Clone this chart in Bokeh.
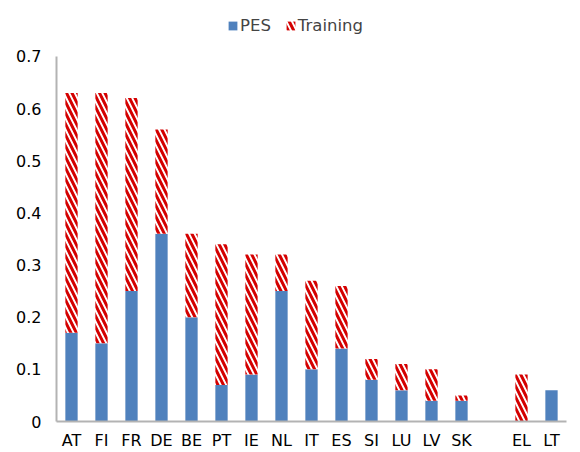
from bokeh.plotting import figure
from bokeh.models import ColumnDataSource, Legend, LegendItem, FactorRange, SingleIntervalTicker, Range1d
from bokeh.embed import file_html
from bokeh.resources import INLINE

countries = ["AT", "FI", "FR", "DE", "BE", "PT", "IE", "NL", "IT", "ES", "SI", "LU", "LV", "SK", " ", "EL", "LT"]
pes = [0.17, 0.15, 0.25, 0.36, 0.20, 0.07, 0.09, 0.25, 0.10, 0.14, 0.08, 0.06, 0.04, 0.04, 0.0, 0.0, 0.06]
training = [0.46, 0.48, 0.37, 0.20, 0.16, 0.27, 0.23, 0.07, 0.17, 0.12, 0.04, 0.05, 0.06, 0.01, 0.0, 0.09, 0.0]
top = [a + b for a, b in zip(pes, training)]

src = ColumnDataSource(dict(cat=countries, pes=pes, training=training, top=top))

BLUE = "#4F81BD"
RED = "#D40000"
FONT = "DejaVu Sans"

p = figure(x_range=FactorRange(factors=countries), y_range=Range1d(0, 0.8071),
           width=574, height=452, output_backend="svg", toolbar_location=None,
           min_border_left=56, min_border_right=8, min_border_top=0, min_border_bottom=30)

r1 = p.vbar(x="cat", top="pes", bottom=0, width=0.41, source=src, fill_color=BLUE, line_color=None)
r2 = p.vbar(x="cat", top="top", bottom="pes", width=0.41, source=src, fill_color="white",
            line_color=None, hatch_pattern="\\", hatch_color=RED, hatch_scale=11, hatch_weight=3)

p.outline_line_color = None
p.xgrid.grid_line_color = None
p.ygrid.grid_line_color = None

p.yaxis.ticker = SingleIntervalTicker(interval=0.1)
p.yaxis.bounds = (0, 0.7001)
for ax in (p.xaxis, p.yaxis):
    ax.axis_line_color = "#B3B3B3"
    ax.axis_line_width = 2
    ax.major_tick_line_color = None
    ax.minor_tick_line_color = None
    ax.major_tick_out = 0
    ax.major_tick_in = 0
    ax.minor_tick_out = 0
    ax.minor_tick_in = 0
    ax.major_label_text_font = FONT
    ax.major_label_text_font_size = "16px"
    ax.major_label_text_color = "#000000"
p.yaxis.major_label_standoff = 15
p.xaxis.major_label_standoff = 9

legend = Legend(items=[LegendItem(label="PES", renderers=[r1]),
                       LegendItem(label="Training", renderers=[r2])],
                orientation="horizontal", location=(171, 386),
                label_text_font=FONT, label_text_font_size="16.5px",
                glyph_width=11, glyph_height=11, spacing=14, label_standoff=2,
                border_line_color=None, background_fill_alpha=0, padding=3, margin=0)
p.add_layout(legend)

open("out.html", "w").write(file_html(p, INLINE))
